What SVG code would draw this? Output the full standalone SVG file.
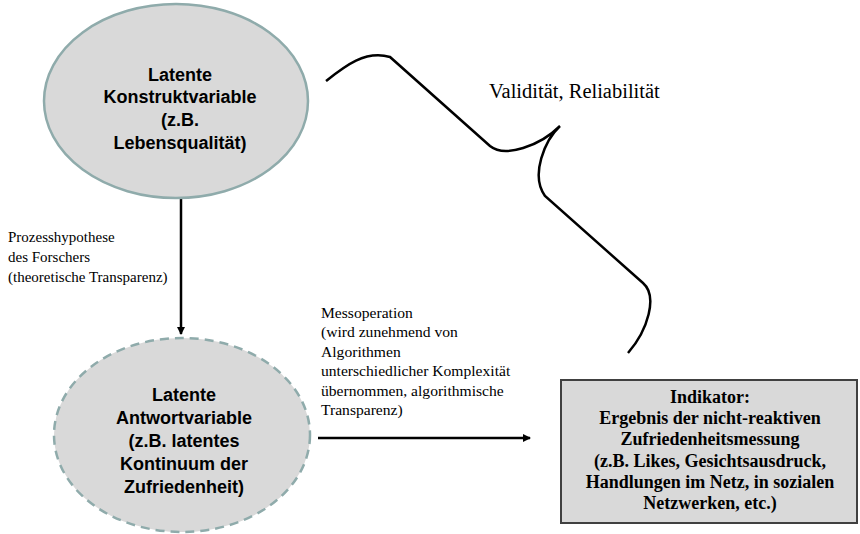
<svg xmlns="http://www.w3.org/2000/svg" width="860" height="534" viewBox="0 0 860 534">
<style>
.nt{font-family:"Liberation Sans",Arial,sans-serif;font-weight:bold;font-size:18px;fill:#000;text-anchor:middle}
.lb{font-family:"Liberation Serif","Times New Roman",serif;font-size:15px;fill:#000}
.ms{font-size:15.6px}
.bx{font-family:"Liberation Serif","Times New Roman",serif;font-weight:bold;font-size:18px;fill:#000;text-anchor:middle}
.ell{fill:#d9d9d9;stroke:#8fabab;stroke-width:2.5}
.con{stroke:#000;stroke-width:2.5;fill:none}
</style>
<defs>
<marker id="ah" markerWidth="8" markerHeight="8" refX="7" refY="4" orient="auto" markerUnits="userSpaceOnUse">
<path d="M0,0 L8,4 L0,8 z" fill="#000"/>
</marker>
</defs>
<rect width="860" height="534" fill="#fff"/>
<g id="connectors">
<line class="con" x1="181" y1="199" x2="181" y2="334" marker-end="url(#ah)"/>
<line class="con" x1="318" y1="438" x2="530" y2="438" marker-end="url(#ah)"/>
<path class="con" d="M326,81 C345,66 365,50 390,57 L490,146 C505,158 540,146 560,126 C545,140 530,175 545,196 L643,283 C658,296 648,330 628,353"/>
</g>
<g id="node-konstrukt">
<ellipse class="ell" cx="176" cy="101" rx="132" ry="97"/>
<text class="nt" x="180" y="81">Latente</text>
<text class="nt" x="180" y="103">Konstruktvariable</text>
<text class="nt" x="180" y="126">(z.B.</text>
<text class="nt" x="180" y="149">Lebensqualität)</text>
</g>
<g id="node-antwort">
<ellipse class="ell" cx="182" cy="435" rx="128" ry="97" stroke-dasharray="9,6"/>
<text class="nt" x="184" y="401">Latente</text>
<text class="nt" x="184" y="424">Antwortvariable</text>
<text class="nt" x="184" y="447">(z.B. latentes</text>
<text class="nt" x="184" y="470">Kontinuum der</text>
<text class="nt" x="184" y="493">Zufriedenheit)</text>
</g>
<g id="node-indikator">
<rect x="561" y="380" width="296" height="143" fill="#d9d9d9" stroke="#404040" stroke-width="2"/>
<text class="bx" x="710" y="403">Indikator:</text>
<text class="bx" x="710" y="424">Ergebnis der nicht-reaktiven</text>
<text class="bx" x="710" y="445">Zufriedenheitsmessung</text>
<text class="bx" x="710" y="467">(z.B. Likes, Gesichtsausdruck,</text>
<text class="bx" x="710" y="488">Handlungen im Netz, in sozialen</text>
<text class="bx" x="710" y="509">Netzwerken, etc.)</text>
</g>
<g id="labels">
<text class="lb" x="489" y="98" style="font-size:20.5px">Validität, Reliabilität</text>
<text class="lb" x="8" y="242">Prozesshypothese</text>
<text class="lb" x="8" y="262">des Forschers</text>
<text class="lb" x="8" y="282">(theoretische  Transparenz)</text>
<text class="lb ms" x="321" y="318">Messoperation</text>
<text class="lb ms" x="321" y="337">(wird zunehmend von</text>
<text class="lb ms" x="321" y="357">Algorithmen</text>
<text class="lb ms" x="321" y="376">unterschiedlicher Komplexität</text>
<text class="lb ms" x="321" y="396">übernommen, algorithmische</text>
<text class="lb ms" x="321" y="415">Transparenz)</text>
</g>
</svg>
